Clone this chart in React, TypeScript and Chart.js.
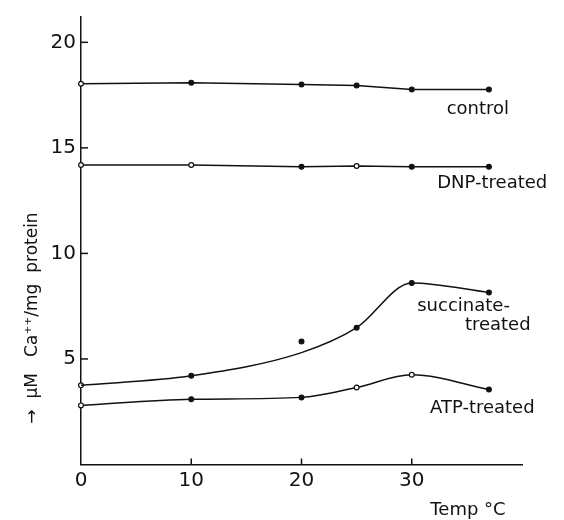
import React, { useEffect, useRef } from "react";
import { Chart, registerables } from "chart.js";

Chart.register(...registerables);

const temps = [0, 10, 20, 25, 30, 37];
const control = [18.04, 18.09, 18.0, 17.95, 17.77, 17.77];
const dnp = [14.19, 14.19, 14.1, 14.14, 14.1, 14.1];
const succinatePoints = [3.75, 4.2, 5.83, 6.48, 8.6, 8.15];
const succinateFit = [3.75, 4.2, 5.3, 6.48, 8.6, 8.15];
const atp = [2.8, 3.09, 3.18, 3.65, 4.25, 3.55];

const xTicks = [0, 10, 20, 30];
const yTicks = [5, 10, 15, 20];

const seriesLabels: { text: string; x: number; y: number }[] = [
  { text: "control", x: 36.0, y: 16.84 },
  { text: "DNP-treated", x: 37.3, y: 13.3 },
  { text: "succinate-", x: 34.7, y: 7.5 },
  { text: "treated", x: 37.8, y: 6.6 },
  { text: "ATP-treated", x: 36.4, y: 2.67 },
];

const xTitle = "Temp °C";
const yTitle = "→  μM   Ca⁺⁺/mg  protein";

const INK = "#111";
const FONT = "'DejaVu Sans', 'Liberation Sans', sans-serif";

const toXY = (ys: number[]) => temps.map((t, i) => ({ x: t, y: ys[i] }));

const overlay = {
  id: "overlay",
  afterDraw(chart: any) {
    const ctx = chart.ctx;
    const xs = chart.scales.x;
    const ys = chart.scales.y;
    const area = chart.chartArea;
    ctx.save();
    ctx.strokeStyle = INK;
    ctx.lineWidth = 1.5;
    yTicks.forEach((v) => {
      const py = ys.getPixelForValue(v);
      ctx.beginPath();
      ctx.moveTo(area.left, py);
      ctx.lineTo(area.left + 7, py);
      ctx.stroke();
    });
    xTicks.slice(1).forEach((v) => {
      const px = xs.getPixelForValue(v);
      ctx.beginPath();
      ctx.moveTo(px, area.bottom);
      ctx.lineTo(px, area.bottom - 6);
      ctx.stroke();
    });
    ctx.fillStyle = INK;
    ctx.font = `18px ${FONT}`;
    ctx.textAlign = "center";
    ctx.textBaseline = "middle";
    seriesLabels.forEach((l) => {
      ctx.fillText(l.text, xs.getPixelForValue(l.x), ys.getPixelForValue(l.y));
    });
    ctx.fillText(xTitle, area.right - 54, area.bottom + 46);
    ctx.font = `17px ${FONT}`;
    ctx.translate(33, area.top + 301);
    ctx.rotate(-Math.PI / 2);
    ctx.fillText(yTitle, 0, 0);
    ctx.restore();
  },
};

export default function App() {
  const ref = useRef<HTMLCanvasElement | null>(null);
  useEffect(() => {
    if (!ref.current) return;
    const hollow = (idx: number[]) => temps.map((_, i) => (idx.includes(i) ? "#fff" : INK));
    const lineBase = {
      borderColor: INK,
      borderWidth: 1.5,
      pointBorderColor: INK,
      pointBorderWidth: 1.2,
      pointRadius: 2.4,
      clip: false as any,
    };
    const chart = new Chart(ref.current, {
      type: "line",
      data: {
        datasets: [
          { ...lineBase, label: "control", data: toXY(control), tension: 0, pointBackgroundColor: hollow([0]) },
          { ...lineBase, label: "DNP-treated", data: toXY(dnp), tension: 0, pointBackgroundColor: hollow([0, 1, 3]) },
          { ...lineBase, label: "succinate fit", data: toXY(succinateFit), cubicInterpolationMode: "monotone", pointRadius: 0 },
          { ...lineBase, label: "succinate-treated", data: toXY(succinatePoints), showLine: false, pointBackgroundColor: hollow([0]) },
          { ...lineBase, label: "ATP-treated", data: toXY(atp), cubicInterpolationMode: "monotone", pointBackgroundColor: hollow([0, 3, 4]) },
        ],
      },
      options: {
        animation: false,
        responsive: false,
        devicePixelRatio: 1,
        layout: { padding: { top: 7, right: 42, left: 0, bottom: 0 } },
        plugins: { legend: { display: false }, tooltip: { enabled: false } },
        scales: {
          x: {
            type: "linear",
            min: 0,
            max: 40,
            afterBuildTicks: (s: any) => {
              s.ticks = xTicks.map((v) => ({ value: v }));
            },
            afterFit: (s: any) => {
              s.height = 55.5;
            },
            grid: { display: true, drawOnChartArea: false, drawTicks: false },
            border: { display: true, color: INK, width: 1.5 },
            ticks: { color: INK, font: { size: 20, family: FONT }, padding: 4, maxRotation: 0 },
          },
          y: {
            type: "linear",
            min: 0,
            max: 21.2,
            afterBuildTicks: (s: any) => {
              s.ticks = yTicks.map((v) => ({ value: v }));
            },
            afterFit: (s: any) => {
              s.width = 81;
            },
            grid: { display: true, drawOnChartArea: false, drawTicks: false },
            border: { display: true, color: INK, width: 1.5 },
            ticks: { color: INK, font: { size: 20, family: FONT }, padding: 5 },
          },
        },
      },
      plugins: [overlay],
    });
    return () => chart.destroy();
  }, []);
  return (
    <div style={{ position: "absolute", left: 0, top: 0, width: 564, height: 520, background: "#fff" }}>
      <canvas ref={ref} width={564} height={520} />
    </div>
  );
}
